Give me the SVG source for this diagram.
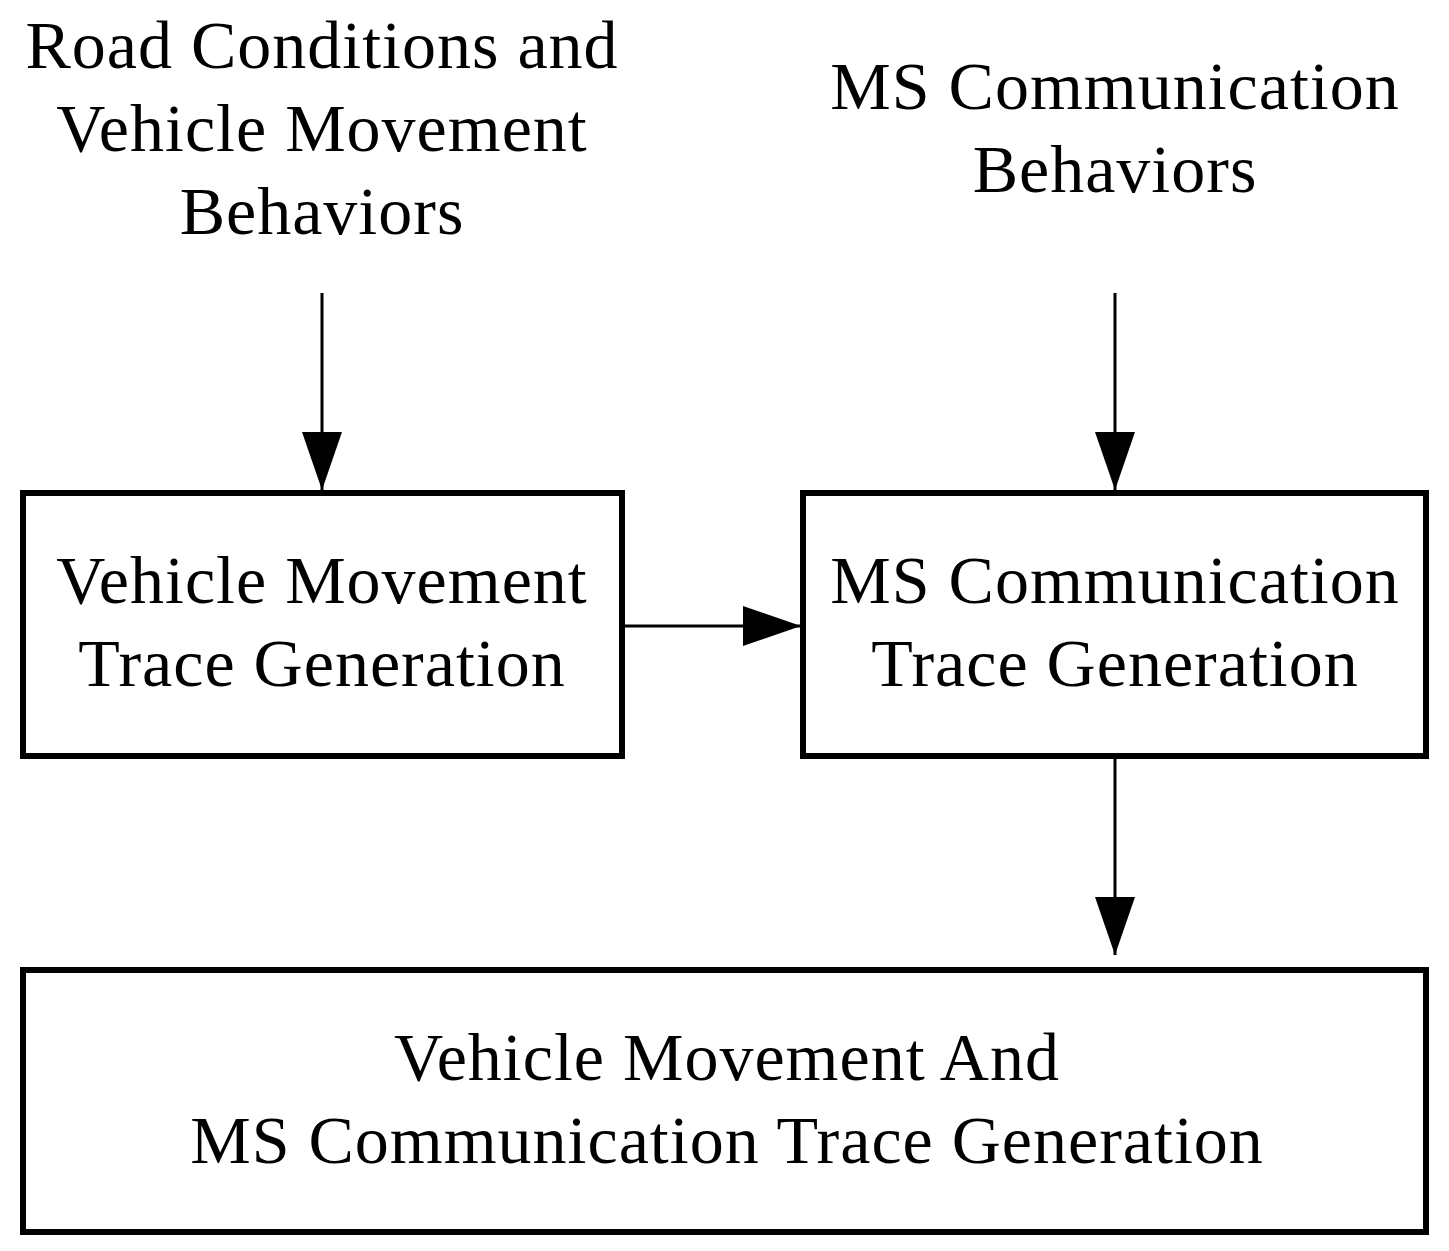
<svg xmlns="http://www.w3.org/2000/svg" width="1449" height="1251" viewBox="0 0 1449 1251">
<style>
text{font-family:"Liberation Serif",serif;font-size:68px;fill:#000;text-anchor:middle;letter-spacing:1px}
.box{fill:#fff;stroke:#000;stroke-width:6}
.ln{stroke:#000;stroke-width:3;fill:none}
</style>
<defs><marker id="ah" markerUnits="userSpaceOnUse" markerWidth="58" markerHeight="40" refX="58" refY="20" orient="auto"><path d="M0,0 L58,20 L0,40 Z" fill="#000"/></marker></defs>
<rect width="1449" height="1251" fill="#fff"/>
<g id="label-road"><text x="322" y="68">Road Conditions and</text><text x="322" y="151">Vehicle Movement</text><text x="322" y="234">Behaviors</text></g>
<g id="label-ms"><text x="1115" y="109">MS Communication</text><text x="1115" y="192">Behaviors</text></g>
<g id="vm"><rect class="box" x="23" y="493" width="599" height="263"/><text x="322" y="603">Vehicle Movement</text><text x="322" y="686">Trace Generation</text></g>
<g id="ms"><rect class="box" x="803" y="493" width="623" height="263"/><text x="1115" y="603">MS Communication</text><text x="1115" y="686">Trace Generation</text></g>
<g id="all"><rect class="box" x="23" y="970" width="1403" height="262"/><text x="727" y="1080">Vehicle Movement And</text><text x="727" y="1163">MS Communication Trace Generation</text></g>
<g id="connectors">
<line class="ln" x1="322" y1="293" x2="322" y2="490" marker-end="url(#ah)"/>
<line class="ln" x1="1115" y1="293" x2="1115" y2="490" marker-end="url(#ah)"/>
<line class="ln" x1="625" y1="626" x2="801" y2="626" marker-end="url(#ah)"/>
<line class="ln" x1="1115" y1="759" x2="1115" y2="955" marker-end="url(#ah)"/>
</g>
</svg>
